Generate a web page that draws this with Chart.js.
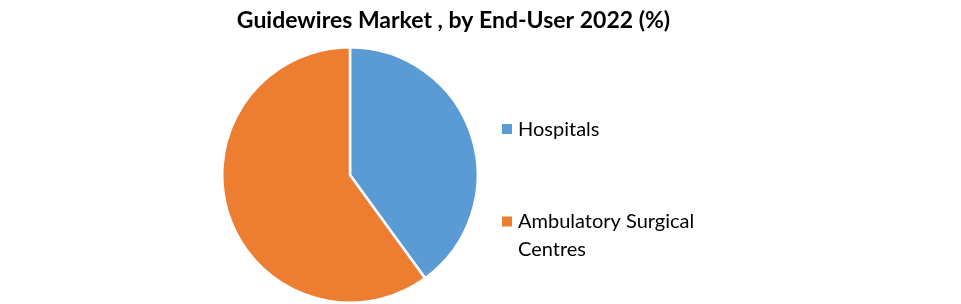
<!DOCTYPE html>
<html>
<head>
<meta charset="utf-8">
<script src="https://cdn.jsdelivr.net/npm/chart.js@4/dist/chart.umd.min.js"></script>
<style>
  html, body { margin: 0; padding: 0; background: #fff; }
  #wrap { width: 961px; height: 304px; position: relative; }
</style>
</head>
<body>
<div id="wrap"><canvas id="c" width="961" height="304"></canvas></div>
<script>
const titleText = "Guidewires Market , by End-User 2022 (%)";
const categories = ["Hospitals", "Ambulatory Surgical Centres"];
const legendLines = [["Hospitals"], ["Ambulatory Surgical", "Centres"]];
const shares = [40, 60];
const colors = ["#5B9BD5", "#ED7D31"];

const FONT = "Lato, 'Open Sans', sans-serif";

const customText = {
  id: 'customText',
  afterDraw(chart) {
    const ctx = chart.ctx;
    ctx.save();
    // title
    ctx.fillStyle = '#000';
    ctx.font = "bold 23px " + FONT;
    ctx.textAlign = 'center';
    ctx.textBaseline = 'alphabetic';
    ctx.fillText(titleText, 453.5, 27.5);
    // legend
    const baseY = [135.5, 228];
    ctx.textAlign = 'left';
    ctx.font = "20px " + FONT;
    legendLines.forEach((lines, i) => {
      ctx.fillStyle = colors[i];
      ctx.fillRect(502, baseY[i] - 11.5, 10, 10);
      ctx.fillStyle = '#000';
      lines.forEach((ln, j) => ctx.fillText(ln, 518, baseY[i] + j * 27.5));
    });
    ctx.restore();
  }
};

new Chart(document.getElementById('c'), {
  type: 'pie',
  data: {
    labels: categories,
    datasets: [{
      data: shares,
      backgroundColor: colors,
      borderColor: '#ffffff',
      borderWidth: 2.5
    }]
  },
  options: {
    responsive: false,
    animation: false,
    layout: { padding: { top: 46, bottom: 0, left: 221, right: 482 } },
    plugins: {
      legend: { display: false },
      title: { display: false },
      tooltip: { enabled: false }
    }
  },
  plugins: [customText]
});
</script>
</body>
</html>
